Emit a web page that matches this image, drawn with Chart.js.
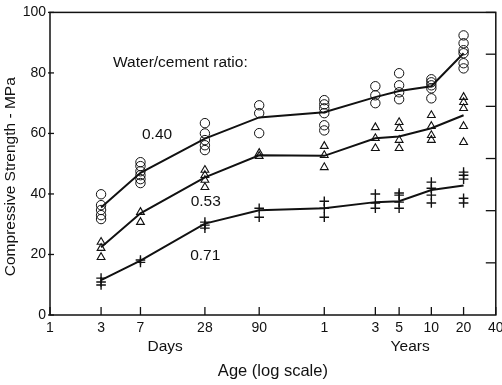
<!DOCTYPE html>
<html>
<head>
<meta charset="utf-8">
<script src="https://cdn.jsdelivr.net/npm/chart.js@4/dist/chart.umd.min.js"></script>
<style>
  html, body { margin: 0; padding: 0; background: #fff; overflow: hidden; }
  #wrap { width: 502px; height: 385px; position: relative; }
</style>
</head>
<body>
<div id="wrap"><canvas id="c" width="502" height="385"></canvas></div>
<script>
// Ages in days (log scale)
const ages = [3, 7, 28, 90, 365, 1095, 1826, 3652, 7305];
const xTickValues = [1, 3, 7, 28, 90, 365, 1095, 1826, 3652, 7305, 14610];
const xTickLabels = ['1', '3', '7', '28', '90', '1', '3', '5', '10', '20', '40'];
const yTicks = [0, 20, 40, 60, 80, 100];

// Individual test results (MPa) per age, w/c = 0.40 (circles)
const pts040 = [
  [39.9, 36.3, 34.7, 33, 31.7],
  [50.5, 49.2, 47.5, 46.2, 44.9, 43.6],
  [63.4, 60, 57.8, 56.1, 54.5],
  [69.3, 66.7, 60.1],
  [71, 69.6, 68.3, 66.7, 62.7, 61],
  [75.6, 72.6, 70],
  [79.9, 75.9, 73.6, 71.3],
  [77.9, 76.9, 75.9, 74.9, 71.6],
  [92.4, 89.8, 87.5, 86.5, 83.2, 81.5]
];
// w/c = 0.53 (triangles)
const pts053 = [
  [24.1, 22.1, 19.1],
  [34, 30.7],
  [47.9, 46.2, 44.6, 42.2],
  [53.5, 52.5],
  [55.8, 52.8, 48.8],
  [62, 58.4, 55.1],
  [63.7, 61.7, 57.8, 55.1],
  [66, 62.4, 59.4, 57.8],
  [72, 70.3, 68.3, 62.4, 57.1]
];
// w/c = 0.71 (crosses)
const pts071 = [
  [12.2, 10.9, 9.9],
  [18.2, 17.4],
  [30.7, 29.7, 28.7],
  [35.3, 32.3],
  [37.6, 35.3, 32.3],
  [40, 37, 35.3],
  [40.3, 39.6, 37.3, 35.3],
  [43.9, 41.9, 39.6, 37],
  [47.2, 46.2, 44.9, 38.6, 37]
];
// Mean curves
const mean040 = [35.5, 47, 58.3, 65.3, 67, 72, 74, 75.6, 86.5];
const mean053 = [22.4, 33.6, 45.5, 52.8, 52.6, 58.4, 59, 61.7, 66];
const mean071 = [11.5, 18, 30.2, 34.6, 35.3, 37.3, 37.6, 41.3, 42.8];

// Text annotations (data coordinates)
const notes = [
  { text: 'Water/cement ratio:', x: 3.88, y: 83.5, align: 'left' },
  { text: '0.40', x: 10, y: 59.7, align: 'center' },
  { text: '0.53', x: 28.5, y: 37.6, align: 'center' },
  { text: '0.71', x: 28.2, y: 19.5, align: 'center' }
];
const unitLabels = [
  { text: 'Days', x: 11.9 },
  { text: 'Years', x: 2314 }
];
const yTitle = 'Compressive Strength - MPa';

const INK = '#111';
const FONT = '"Liberation Sans", Arial, sans-serif';

function flatten(groups) {
  const out = [];
  groups.forEach((g, i) => g.forEach(v => out.push({ x: ages[i], y: v })));
  return out;
}
function line(vals) { return vals.map((v, i) => ({ x: ages[i], y: v })); }

const decor = {
  id: 'decor',
  afterDraw(chart) {
    const ctx = chart.ctx;
    const a = chart.chartArea;
    const xs = chart.scales.x, ys = chart.scales.y, y2 = chart.scales.y2;
    ctx.save();
    ctx.strokeStyle = INK;
    ctx.lineWidth = 1.5;
    ctx.strokeRect(a.left, a.top, a.right - a.left, a.bottom - a.top);
    // bottom ticks (inward)
    ctx.lineWidth = 1.3;
    xTickValues.forEach(v => {
      const px = xs.getPixelForValue(v);
      ctx.beginPath(); ctx.moveTo(px, a.bottom); ctx.lineTo(px, a.bottom - 8); ctx.stroke();
    });
    // left ticks
    yTicks.forEach(v => {
      const py = ys.getPixelForValue(v);
      ctx.beginPath(); ctx.moveTo(a.left - 2, py); ctx.lineTo(a.left + 4, py); ctx.stroke();
    });
    // right ticks (inward)
    y2.ticks.forEach(t => {
      if (t.value <= 0) return;
      const py = y2.getPixelForValue(t.value);
      ctx.beginPath(); ctx.moveTo(a.right, py); ctx.lineTo(a.right - 10, py); ctx.stroke();
    });
    // annotations
    ctx.fillStyle = INK;
    ctx.font = '15.5px ' + FONT;
    ctx.textBaseline = 'middle';
    notes.forEach(n => {
      ctx.textAlign = n.align;
      ctx.fillText(n.text, xs.getPixelForValue(n.x), ys.getPixelForValue(n.y));
    });
    ctx.textAlign = 'center';
    ctx.font = '15.5px ' + FONT;
    unitLabels.forEach(u => {
      ctx.fillText(u.text, xs.getPixelForValue(u.x), a.bottom + 32);
    });
    // y axis title
    ctx.save();
    ctx.translate(11, (a.top + a.bottom) / 2 + 13);
    ctx.rotate(-Math.PI / 2);
    ctx.font = '15.5px ' + FONT;
    ctx.textAlign = 'center';
    ctx.fillText(yTitle, 0, 0);
    ctx.restore();
    ctx.restore();
  }
};

new Chart(document.getElementById('c'), {
  type: 'scatter',
  data: {
    datasets: [
      { label: '0.40 mean', type: 'line', data: line(mean040), borderColor: INK, borderWidth: 2, pointRadius: 0, fill: false, tension: 0 },
      { label: '0.53 mean', type: 'line', data: line(mean053), borderColor: INK, borderWidth: 2, pointRadius: 0, fill: false, tension: 0 },
      { label: '0.71 mean', type: 'line', data: line(mean071), borderColor: INK, borderWidth: 2, pointRadius: 0, fill: false, tension: 0 },
      { label: '0.40', data: flatten(pts040), pointStyle: 'circle', pointRadius: 4.7, borderColor: INK, backgroundColor: 'rgba(0,0,0,0)', borderWidth: 1 },
      { label: '0.53', data: flatten(pts053), pointStyle: 'triangle', pointRadius: 4.5, borderColor: INK, backgroundColor: 'rgba(0,0,0,0)', borderWidth: 1.1 },
      { label: '0.71', data: flatten(pts071), pointStyle: 'cross', pointRadius: 4.8, borderColor: INK, backgroundColor: INK, borderWidth: 1.4 }
    ]
  },
  options: {
    responsive: false,
    animation: false,
    events: [],
    layout: { padding: { left: 0, right: 6, top: 10, bottom: 0 } },
    plugins: { legend: { display: false }, tooltip: { enabled: false } },
    scales: {
      x: {
        type: 'logarithmic',
        min: 1, max: 14610,
        afterBuildTicks(scale) { scale.ticks = xTickValues.map(v => ({ value: v })); },
        afterFit(scale) { scale.paddingLeft = 0; scale.paddingRight = 0; scale.height = 70; },
        ticks: {
          autoSkip: false, maxRotation: 0, color: INK, padding: 5,
          font: { family: FONT, size: 14 },
          callback(v) { const i = xTickValues.indexOf(v); return i >= 0 ? xTickLabels[i] : ''; }
        },
        grid: { display: false, drawTicks: false },
        border: { display: false },
        title: { display: true, text: 'Age (log scale)', color: INK, font: { family: FONT, size: 16.5 }, padding: { top: 0, bottom: 4 } }
      },
      y: {
        min: 0, max: 100,
        afterBuildTicks(scale) { scale.ticks = yTicks.map(v => ({ value: v })); },
        afterFit(scale) { scale.width = 50; },
        ticks: { color: INK, padding: 4, font: { family: FONT, size: 14 } },
        grid: { display: false, drawTicks: false },
        border: { display: false }
      },
      y2: {
        position: 'right',
        min: 0, max: 100 / 6.895,
        ticks: { display: false, stepSize: 2.5 },
        afterFit(scale) { scale.width = 0; },
        grid: { display: false, drawTicks: false },
        border: { display: false }
      }
    }
  },
  plugins: [decor]
});
</script>
</body>
</html>
